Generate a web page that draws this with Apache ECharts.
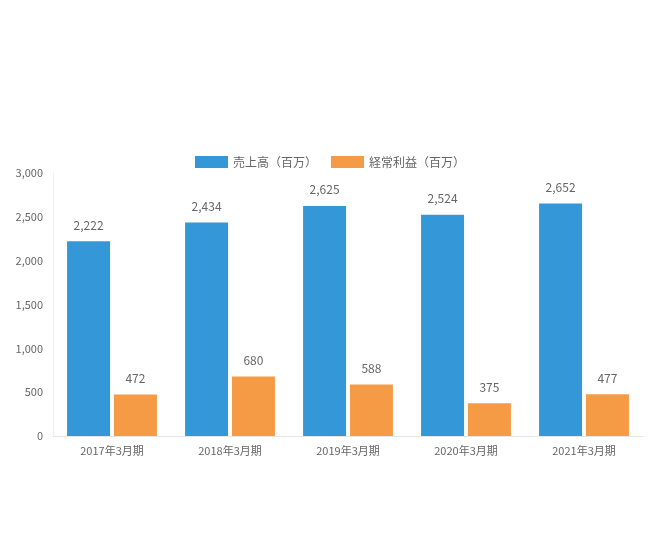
<!DOCTYPE html>
<html><head><meta charset="utf-8">
<script src="https://cdn.jsdelivr.net/npm/echarts@6/dist/echarts.min.js"></script>
<style>html,body{margin:0;padding:0;background:#fff}#c{width:660px;height:550px}</style>
</head><body><div id="c"></div>
<script>
const categories = ['2017年3月期','2018年3月期','2019年3月期','2020年3月期','2021年3月期'];
const sales = [2222, 2434, 2625, 2524, 2652];
const profit = [472, 680, 588, 375, 477];
const seriesNames = ['売上高（百万）','経常利益（百万）'];
const chart = echarts.init(document.getElementById('c'));
const font = "'Noto Sans CJK JP', sans-serif";
const lbl = {show:true, position:'top', distance:10, color:'#666', fontSize:12, fontFamily:font,
  formatter: p => p.value.toLocaleString('en-US')};
chart.setOption({
  animation:false,
  textStyle:{fontFamily:font},
  legend:{top:151, left:'center', icon:'rect', itemWidth:33, itemHeight:12, itemGap:14,
    textStyle:{color:'#666', fontSize:12, fontFamily:font}},
  grid:{left:53, right:17, top:173, bottom:114, containLabel:false},
  xAxis:{type:'category', data:categories,
    axisLine:{lineStyle:{color:'#e6e6e6'}}, axisTick:{show:false},
    axisLabel:{color:'#666', fontSize:11, margin:9}},
  yAxis:{type:'value', min:0, max:3000, interval:500,
    axisLine:{show:true, lineStyle:{color:'#eeeeee'}}, axisTick:{show:false},
    splitLine:{show:false},
    axisLabel:{color:'#666', fontSize:11, margin:10, formatter:v=>v.toLocaleString('en-US')}},
  series:[
    {name:seriesNames[0], type:'bar', data:sales, barWidth:43, barGap:'9%', itemStyle:{color:'#3498d8'}, label:lbl},
    {name:seriesNames[1], type:'bar', data:profit, barWidth:43, itemStyle:{color:'#f59b45'}, label:lbl}
  ]
});
</script></body></html>
